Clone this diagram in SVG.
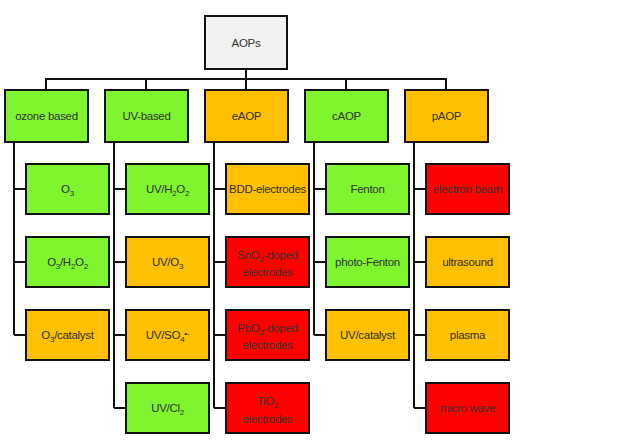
<svg xmlns="http://www.w3.org/2000/svg" width="618" height="447" viewBox="0 0 618 447">
<style>
rect{stroke:#111;stroke-width:2}
.g{fill:#7EF52F}.o{fill:#FFC000}.r{fill:#FF0000}.w{fill:#F2F2F2}
text{font-family:"Liberation Sans",Arial,sans-serif;font-size:11.5px;letter-spacing:-0.3px;fill:#333;text-anchor:middle}
.c path{fill:none;stroke:#111;stroke-width:2}
</style>
<rect width="618" height="447" fill="#fff" style="stroke:none"/>
<g class="c">
<path d="M246 69V79M46 90V79H446V90M146 79V90M246 79V90M346 79V90"/>
<path d="M14 142V335M14 189H26M14 262H26M14 335H26"/>
<path d="M114 142V408M114 189H126M114 262H126M114 335H126M114 408H126"/>
<path d="M214 142V408M214 189H226M214 262H226M214 335H226M214 408H226"/>
<path d="M314 142V335M314 189H326M314 262H326M314 335H326"/>
<path d="M414 142V408M414 189H426M414 262H426M414 335H426M414 408H426"/>
</g>
<g id="root"><rect class="w" x="205" y="16" width="82" height="53"/><text x="246" y="47">AOPs</text></g>
<g id="ozone"><rect class="g" x="5" y="90" width="83" height="52"/><text x="46.5" y="120">ozone based</text></g>
<g id="uv"><rect class="g" x="105" y="90" width="83" height="52"/><text x="146.5" y="120">UV-based</text></g>
<g id="eaop"><rect class="o" x="205" y="90" width="83" height="52"/><text x="246.5" y="120">eAOP</text></g>
<g id="caop"><rect class="g" x="305" y="90" width="83" height="52"/><text x="346.5" y="120">cAOP</text></g>
<g id="paop"><rect class="o" x="405" y="90" width="83" height="52"/><text x="446.5" y="120">pAOP</text></g>

<g id="o3"><rect class="g" x="26" y="164" width="83" height="50"/><text x="67.5" y="193">O<tspan font-size="8" dy="3">3</tspan></text></g>
<g id="o3h2o2"><rect class="g" x="26" y="237" width="83" height="50"/><text x="67.5" y="266">O<tspan font-size="8" dy="3">3</tspan><tspan dy="-3">/H</tspan><tspan font-size="8" dy="3">2</tspan><tspan dy="-3">O</tspan><tspan font-size="8" dy="3">2</tspan></text></g>
<g id="o3cat"><rect class="o" x="26" y="310" width="83" height="50"/><text x="67.5" y="339">O<tspan font-size="8" dy="3">3</tspan><tspan dy="-3">/catalyst</tspan></text></g>

<g id="uvh2o2"><rect class="g" x="126" y="164" width="83" height="50"/><text x="167.5" y="193">UV/H<tspan font-size="8" dy="3">2</tspan><tspan dy="-3">O</tspan><tspan font-size="8" dy="3">2</tspan></text></g>
<g id="uvo3"><rect class="o" x="126" y="237" width="83" height="50"/><text x="167.5" y="266">UV/O<tspan font-size="8" dy="3">3</tspan></text></g>
<g id="uvso4"><rect class="o" x="126" y="310" width="83" height="50"/><text x="167.5" y="339">UV/SO<tspan font-size="8" dy="3">4</tspan><tspan font-size="8" dy="-6">•-</tspan></text></g>
<g id="uvcl2"><rect class="g" x="126" y="383" width="83" height="50"/><text x="167.5" y="412">UV/Cl<tspan font-size="8" dy="3">2</tspan></text></g>

<g id="bdd"><rect class="o" x="226" y="164" width="83" height="50"/><text x="267.5" y="193">BDD-electrodes</text></g>
<g id="sno2"><rect class="r" x="226" y="237" width="83" height="50"/><text x="267.5" y="259">SnO<tspan font-size="8" dy="3">2</tspan><tspan dy="-3">-doped</tspan></text><text x="267.5" y="276">electrodes</text></g>
<g id="pbo2"><rect class="r" x="226" y="310" width="83" height="50"/><text x="267.5" y="332">PbO<tspan font-size="8" dy="3">2</tspan><tspan dy="-3">-doped</tspan></text><text x="267.5" y="349">electrodes</text></g>
<g id="tio2"><rect class="r" x="226" y="383" width="83" height="50"/><text x="267.5" y="405">TiO<tspan font-size="8" dy="3">2</tspan></text><text x="267.5" y="423">electrodes</text></g>

<g id="fenton"><rect class="g" x="326" y="164" width="83" height="50"/><text x="367.5" y="193">Fenton</text></g>
<g id="photofenton"><rect class="g" x="326" y="237" width="83" height="50"/><text x="367.5" y="266">photo-Fenton</text></g>
<g id="uvcat"><rect class="o" x="326" y="310" width="83" height="50"/><text x="367.5" y="339">UV/catalyst</text></g>

<g id="ebeam"><rect class="r" x="426" y="164" width="83" height="50"/><text x="467.5" y="193">electron beam</text></g>
<g id="ultra"><rect class="o" x="426" y="237" width="83" height="50"/><text x="467.5" y="266">ultrasound</text></g>
<g id="plasma"><rect class="o" x="426" y="310" width="83" height="50"/><text x="467.5" y="339">plasma</text></g>
<g id="micro"><rect class="r" x="426" y="383" width="83" height="50"/><text x="467.5" y="412">micro wave</text></g>
</svg>
